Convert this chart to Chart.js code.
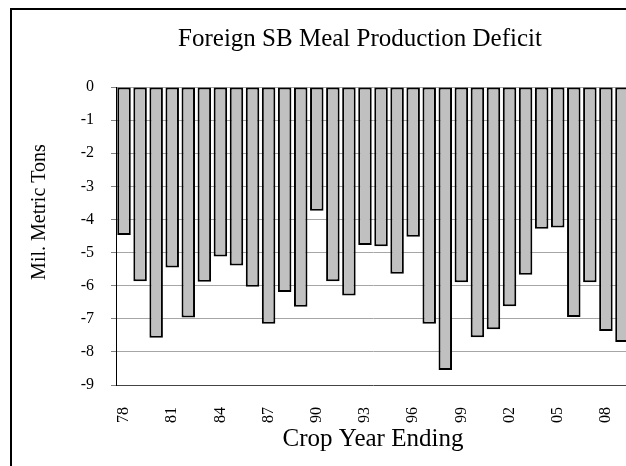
<!DOCTYPE html>
<html>
<head>
<meta charset="utf-8">
<title>Foreign SB Meal Production Deficit</title>
<script src="https://cdn.jsdelivr.net/npm/chart.js@4"></script>
<style>
    html, body { margin: 0; padding: 0; background: #fff; overflow: hidden; width: 626px; height: 466px; }
    #frame { position: absolute; left: 10px; top: 8px; width: 700px; height: 500px;
             border-left: 2px solid #000; border-top: 2px solid #000; }
    #chart { position: absolute; left: 0; top: 0; }
</style>
</head>
<body>
<div id="frame"></div>
<canvas id="chart" width="720" height="466"></canvas>
<script>
// ── Data ──
const years = ['78', '79', '80', '81', '82', '83', '84', '85', '86', '87', '88', '89', '90', '91', '92', '93',
    '94', '95', '96', '97', '98', '99', '00', '01', '02', '03', '04', '05', '06', '07', '08', '09'];
const deficit = [-4.47, -5.87, -7.57, -5.45, -6.96, -5.88, -5.12, -5.39, -6.03, -7.15, -6.19, -6.64, -3.74, -5.87, -6.30, -4.77,
    -4.81, -5.64, -4.52, -7.15, -8.55, -5.90, -7.56, -7.32, -6.62, -5.67, -4.28, -4.24, -6.95, -5.90, -7.37, -7.70];
const yTicks = [0, -1, -2, -3, -4, -5, -6, -7, -8, -9];

const chartTitle = 'Foreign SB Meal Production Deficit';
const yTitle = 'Mil. Metric Tons';
const xTitle = 'Crop Year Ending';

const serif = '"Liberation Serif", "Times New Roman", serif';

// Titles sit off-centre in the original, so draw them by hand
const titlesPlugin = {
    id: 'titles',
    afterDraw(chart) {
        const ctx = chart.ctx;
        ctx.save();
        ctx.fillStyle = '#000';
        ctx.textAlign = 'center';
        ctx.textBaseline = 'alphabetic';
        ctx.font = `25px ${serif}`;
        ctx.fillText(chartTitle, 360, 46);
        ctx.translate(45, 212);
        ctx.rotate(-Math.PI / 2);
        ctx.font = `20px ${serif}`;
        ctx.fillText(yTitle, 0, 0);
        ctx.restore();
    }
};

new Chart(document.getElementById('chart'), {
    type: 'bar',
    data: {
        labels: years,
        datasets: [{
            data: deficit,
            backgroundColor: '#c0c0c0',
            borderColor: '#000',
            borderWidth: 2,
            borderSkipped: false,
            barPercentage: 0.84,
            categoryPercentage: 1
        }]
    },
    plugins: [titlesPlugin],
    options: {
        responsive: false,
        animation: false,
        layout: { padding: { left: 0, right: 90, top: 87, bottom: 0 } },
        plugins: {
            legend: { display: false },
            tooltip: { enabled: false },
            title: { display: false }
        },
        scales: {
            x: {
                afterFit: (scale) => { scale.height = 81; },
                grid: { display: false, drawTicks: false },
                border: { display: false },
                ticks: {
                    autoSkip: false,
                    maxRotation: 90,
                    minRotation: 90,
                    padding: 22,
                    color: '#000',
                    font: { family: serif, size: 16 },
                    callback: (value, index) => (index % 3 === 0 ? years[index] : '')
                },
                title: {
                    display: true,
                    text: xTitle,
                    color: '#000',
                    font: { family: serif, size: 25, lineHeight: 1.2 },
                    padding: { top: 0, bottom: 12 }
                }
            },
            y: {
                min: -9,
                max: 0,
                afterFit: (scale) => { scale.width = 116; },
                afterBuildTicks: (scale) => { scale.ticks = yTicks.map(v => ({ value: v })); },
                grid: {
                    color: (ctx) => (ctx.tick && ctx.tick.value === -9 ? '#444' : '#a6a6a6'),
                    tickColor: '#808080',
                    tickLength: 5,
                    lineWidth: 1
                },
                border: { display: true, color: '#000', width: 1 },
                ticks: {
                    padding: 17,
                    color: '#000',
                    font: { family: serif, size: 16 }
                }
            }
        }
    }
});
</script>
</body>
</html>
